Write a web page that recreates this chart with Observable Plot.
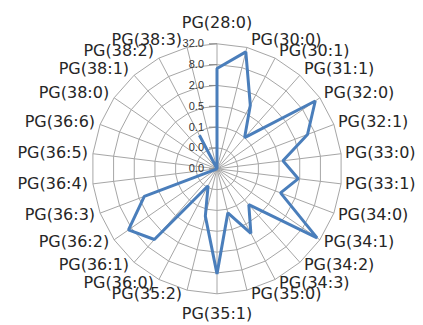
<!DOCTYPE html>
<html><head><meta charset="utf-8">
<script src="https://cdn.jsdelivr.net/npm/d3@7"></script>
<script src="https://cdn.jsdelivr.net/npm/@observablehq/plot@0.6"></script>
<style>html,body{margin:0;padding:0;background:#fff} svg{display:block}</style>
</head><body><div id="chart"></div>
<script>
const categories = ["PG(28:0)","PG(30:0)","PG(30:1)","PG(31:1)","PG(32:0)","PG(32:1)","PG(33:0)","PG(33:1)","PG(34:0)","PG(34:1)","PG(34:2)","PG(34:3)","PG(35:0)","PG(35:1)","PG(35:2)","PG(36:0)","PG(36:1)","PG(36:2)","PG(36:3)","PG(36:4)","PG(36:5)","PG(36:6)","PG(38:0)","PG(38:1)","PG(38:2)","PG(38:3)"];
const values = [6.2, 23.6, 0.92, 0.125, 22, 4.9, 0.65, 1.82, 0.72, 25.5, 0.19, 1.0, 0.16, 8.5, 0.2, 0.028, 4.2, 10, 1.38, 0, 0, 0, 0, 0, 0.097, 0];
const tickValues = [0.0078125, 0.03125, 0.125, 0.5, 2, 8, 32];
const tickLabels = ["0.0","0.0","0.1","0.5","2.0","8.0","32.0"];

const W = 423, H = 325, R = 125, cx = 216.5, cy = 168.3;
const nLev = tickValues.length - 1;
const u = R / nLev;
const base = 4, vmin = tickValues[0];
const lev = v => Math.max(0, Math.min(nLev, Math.log(Math.max(v, 1e-12) / vmin) / Math.log(base)));
const n = categories.length;
const ang = i => i * 2 * Math.PI / n;
const pt = (i, r) => ({x: r * Math.sin(ang(i)), y: r * Math.cos(ang(i))});

const ringData = [];
for (let k = 1; k <= nLev; k++) for (let i = 0; i < n; i++) ringData.push({...pt(i, k), k});
const spokes = categories.map((c, i) => ({...pt(i, nLev), c}));
const series = categories.map((c, i) => ({...pt(i, lev(values[i])), c, v: values[i]}));
const labels = categories.map((c, i) => {
  const a = ang(i), s = Math.sin(a), co = Math.cos(a);
  const p = pt(i, nLev);
  const side = Math.abs(s) < 1e-6 ? (co > 0 ? "top" : "bottom") : (s > 0 ? "right" : "left");
  const k = co > 0 ? 8 : 4;
  return {c, x: p.x, y: (side === "top" || side === "bottom") ? p.y : p.y + co * k / u, side};
});
const tickData = tickValues.map((t, k) => ({y: k, label: tickLabels[k]}));

const lblFont = {fontFamily: "DejaVu Sans", fontSize: 16, fill: "#262626"};
const chart = Plot.plot({
  width: W, height: H, margin: 0,
  x: {domain: [-cx / u, (W - cx) / u], axis: null},
  y: {domain: [-(H - cy) / u, cy / u], axis: null},
  style: {background: "#fff"},
  marks: [
    Plot.line(ringData, {x: "x", y: "y", z: "k", curve: "linear-closed", stroke: "#a6a6a6", strokeWidth: 1}),
    Plot.link(spokes, {x1: d => 0, y1: d => 0, x2: "x", y2: "y", stroke: "#a6a6a6", strokeWidth: 1}),
    Plot.link(tickData, {x1: d => -8 / u, x2: d => 0, y1: "y", y2: "y", stroke: "#888", strokeWidth: 1}),
    Plot.text(tickData, {x: d => 0, y: "y", text: "label", textAnchor: "end", dx: -13, fontFamily: "Liberation Sans", fontSize: 11, fill: "#333"}),
    Plot.line(series, {x: "x", y: "y", curve: "linear-closed", stroke: "#4a7ebb", strokeWidth: 3, strokeLinejoin: "miter"}),
    Plot.text(labels.filter(d => d.side === "top"), {x: "x", y: "y", text: "c", textAnchor: "middle", dy: -21, ...lblFont}),
    Plot.text(labels.filter(d => d.side === "bottom"), {x: "x", y: "y", text: "c", textAnchor: "middle", dy: 20, ...lblFont}),
    Plot.text(labels.filter(d => d.side === "right"), {x: "x", y: "y", text: "c", textAnchor: "start", dx: 4, ...lblFont}),
    Plot.text(labels.filter(d => d.side === "left"), {x: "x", y: "y", text: "c", textAnchor: "end", dx: -5, ...lblFont})
  ]
});
document.getElementById("chart").appendChild(chart);
</script>
</body></html>
